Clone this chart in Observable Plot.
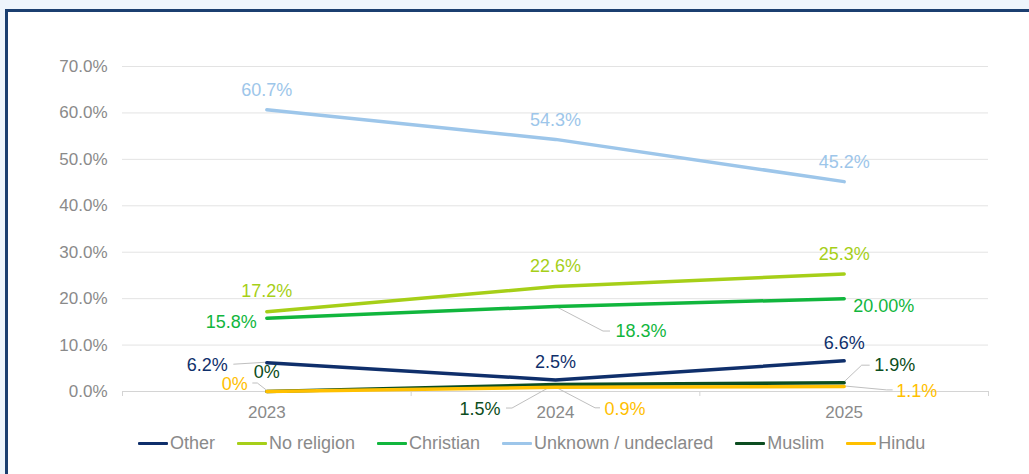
<!DOCTYPE html>
<html>
<head>
<meta charset="utf-8">
<script src="https://cdn.jsdelivr.net/npm/d3@7"></script>
<script src="https://cdn.jsdelivr.net/npm/@observablehq/plot@0.6"></script>
<style>
  html, body { margin: 0; padding: 0; background: #eef5fc; overflow: hidden; width: 1029px; height: 474px; }
  #frame { position: absolute; left: 5px; top: 9px; width: 1100px; height: 600px; border: 3px solid #1b3f70; background: #ffffff; }
  #chart { position: absolute; left: 0; top: 0; }
  #legend { position: absolute; left: 130px; top: 420px; height: 22px; display: flex; align-items: center; white-space: nowrap;
            font-family: 'Liberation Sans', Arial, sans-serif; font-size: 18px; color: #8a8a8a; }
  .item { display: flex; align-items: center; margin-right: 22px; }
  .sw { display: inline-block; width: 30px; height: 3px; margin-right: 2px; border-radius: 1px; }
</style>
</head>
<body>
<div id="frame">
  <div id="chart"></div>
  <div id="legend"></div>
</div>
<script>
// ---- data ----
const years = [2023, 2024, 2025];
const seriesNames = ["Other", "No religion", "Christian", "Unknown / undeclared", "Muslim", "Hindu"];
const other = [6.2, 2.5, 6.6];
const noReligion = [17.2, 22.6, 25.3];
const christian = [15.8, 18.3, 20.0];
const unknown = [60.7, 54.3, 45.2];
const muslim = [0, 1.5, 1.9];
const hindu = [0, 0.9, 1.1];
const otherLabels = ["6.2%", "2.5%", "6.6%"];
const noReligionLabels = ["17.2%", "22.6%", "25.3%"];
const christianLabels = ["15.8%", "18.3%", "20.00%"];
const unknownLabels = ["60.7%", "54.3%", "45.2%"];
const muslimLabels = ["0%", "1.5%", "1.9%"];
const hinduLabels = ["0%", "0.9%", "1.1%"];
const yTicks = [0, 10, 20, 30, 40, 50, 60, 70];
const yTickLabels = ["0.0%", "10.0%", "20.0%", "30.0%", "40.0%", "50.0%", "60.0%", "70.0%"];

// ---- styles ----
const colors = ["#0f2f6b", "#a6cf18", "#11b63d", "#9dc6ea", "#0c4d20", "#ffc000"];
// label placement per series/year: [textAnchor, dx, dy, leader offsets]
const placements = [
  [["end", -39, 3, [[0, 0], [-33, 2]]], ["middle", 0, -18], ["middle", 0, -18]],
  [["middle", 0, -20], ["middle", 0, -20], ["middle", 0, -20]],
  [["end", -10, 4], ["start", 60, 25, [[0, 0], [48, 25], [55, 25]]], ["start", 9, 8]],
  [["middle", 0, -19], ["middle", 0, -19], ["middle", 0, -19]],
  [["middle", 0, -19], ["end", -55, 25, [[0, 0], [-43, 24], [-49, 24]]], ["start", 30, -17, [[0, 0], [18, -17], [26, -17]]]],
  [["end", -19, -7, [[0, -1], [-9, -8], [-14, -8]]], ["start", 49, 22, [[0, 0], [40, 21], [45, 21]]], ["start", 52, 5, [[0, 0], [43, 4], [49, 4]]]]
];

const seriesValues = [other, noReligion, christian, unknown, muslim, hindu];
const seriesLabels = [otherLabels, noReligionLabels, christianLabels, unknownLabels, muslimLabels, hinduLabels];

const rows = seriesNames.flatMap((name, s) =>
  years.map((year, i) => ({series: name, year, value: seriesValues[s][i], label: seriesLabels[s][i], s, i})));

const font = "'Liberation Sans', Arial, sans-serif";

// leader lines (drawn with the plot's own scales)
const leaders = (index, scales) => {
  const g = d3.create("svg:g").attr("fill", "none").attr("stroke", "#bfbfbf").attr("stroke-width", 1);
  for (const r of rows) {
    const p = placements[r.s][r.i];
    if (!p[3]) continue;
    const px = scales.x(r.year), py = scales.y(r.value);
    g.append("path").attr("d", d3.line()(p[3].map(([ox, oy]) => [px + ox, py + oy])));
  }
  return g.node();
};

const labelMarks = rows.map(r => {
  const p = placements[r.s][r.i];
  return Plot.text([r], {
    x: "year", y: "value", text: "label",
    fill: colors[r.s], textAnchor: p[0], dx: p[1], dy: p[2],
    fontSize: 18, fontFamily: font
  });
});

const chart = Plot.plot({
  width: 1021,
  height: 410,
  marginLeft: 114,
  marginRight: 41,
  marginTop: 54,
  marginBottom: 31,
  style: {fontFamily: font, fontSize: "17px", color: "#8a8a8a", background: "transparent", overflow: "visible"},
  x: {type: "linear", domain: [2022.5, 2025.5], label: null},
  y: {domain: [0, 70], label: null},
  color: {domain: seriesNames, range: colors},
  marks: [
    Plot.gridY({ticks: yTicks, stroke: "#e3e3e3", strokeOpacity: 1}),
    Plot.ruleY([0], {stroke: "#d4d4d4"}),
    Plot.axisX({ticks: [2022.5, 2023.5, 2024.5, 2025.5], tickFormat: () => "", tickSize: 5, stroke: "#d4d4d4", strokeOpacity: 1}),
    Plot.axisX({ticks: years, tickFormat: d => String(d), tickSize: 0, tickPadding: 14, fill: "#8a8a8a", fontSize: 17}),
    Plot.axisY({ticks: yTicks, tickFormat: d => yTickLabels[yTicks.indexOf(d)], tickSize: 0, tickPadding: 15, fill: "#8a8a8a", fontSize: 17}),
    leaders,
    Plot.line(rows, {x: "year", y: "value", z: "series", stroke: "series", strokeWidth: 3.5, strokeLinecap: "round", strokeLinejoin: "round"}),
    ...labelMarks
  ]
});
document.getElementById("chart").appendChild(chart);

// legend
const legend = document.getElementById("legend");
seriesNames.forEach((name, i) => {
  const item = document.createElement("div");
  item.className = "item";
  const sw = document.createElement("span");
  sw.className = "sw";
  sw.style.background = colors[i];
  const t = document.createElement("span");
  t.textContent = name;
  item.appendChild(sw);
  item.appendChild(t);
  legend.appendChild(item);
});
</script>
</body>
</html>
